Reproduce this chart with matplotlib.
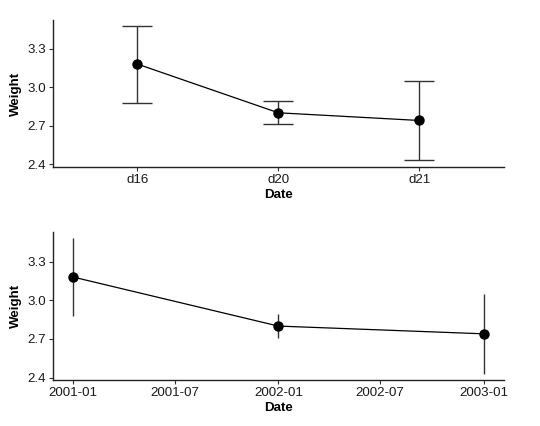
import numpy as np
import matplotlib
matplotlib.use('Agg')
import matplotlib.pyplot as plt
import matplotlib.dates as mdates

# data
days = ['d16', 'd20', 'd21']
dates = np.array(['2001-01-01', '2002-01-01', '2003-01-01'], dtype='datetime64[D]')
weight = [3.18, 2.80, 2.74]
err = [0.30, 0.09, 0.31]
yticks = [2.4, 2.7, 3.0, 3.3]

plt.rcParams['font.family'] = ['Liberation Sans', 'DejaVu Sans']

fig = plt.figure(figsize=(5.4, 4.26), dpi=100)
ax1 = fig.add_axes([0.098, 0.608, 0.835, 0.345])
ax2 = fig.add_axes([0.098, 0.108, 0.835, 0.347])


def style(ax):
    for s in ['top', 'right']:
        ax.spines[s].set_visible(False)
    for s in ['left', 'bottom']:
        ax.spines[s].set_linewidth(1.0)
        ax.spines[s].set_color('#222222')
    ax.tick_params(direction='out', length=3, width=0.8, color='#333333',
                   labelsize=9.6, labelcolor='#1a1a1a', pad=2)
    ax.set_yticks(yticks)
    ax.set_yticklabels([f'{v:.1f}' for v in yticks])
    ax.set_xlabel('Date', fontsize=9.6, fontweight='bold', labelpad=2)
    ax.set_ylabel('Weight', fontsize=9.6, fontweight='bold', labelpad=4)


# top panel: categorical x
x = np.arange(1, len(days) + 1)
ax1.plot(x, weight, color='black', lw=0.9, zorder=2)
ax1.errorbar(x, weight, yerr=err, fmt='none', ecolor='#333333', elinewidth=1.0,
             capsize=10.8, capthick=1.0, zorder=1)
ax1.plot(x, weight, 'o', color='black', ms=6.5, zorder=3)
ax1.set_xticks(x)
ax1.set_xticklabels(days)
ax1.set_xlim(0.4, 3.6)
ax1.set_ylim(2.377, 3.524)
style(ax1)

# bottom panel: date x
ax2.plot(dates, weight, color='black', lw=0.9, zorder=2)
ax2.errorbar(dates, weight, yerr=err, fmt='none', ecolor='#333333', elinewidth=1.0,
             capsize=0, zorder=1)
ax2.plot(dates, weight, 'o', color='black', ms=6.5, zorder=3)
span = (dates[-1] - dates[0]).astype(int)
pad = np.timedelta64(int(round(span * 0.05)), 'D')
ax2.set_xlim(dates[0] - pad, dates[-1] + pad)
ax2.xaxis.set_major_locator(mdates.MonthLocator(bymonth=[1, 7]))
ax2.xaxis.set_major_formatter(mdates.DateFormatter('%Y-%m'))
ax2.set_ylim(2.382, 3.528)
style(ax2)

fig.savefig('out.png', dpi=100)
